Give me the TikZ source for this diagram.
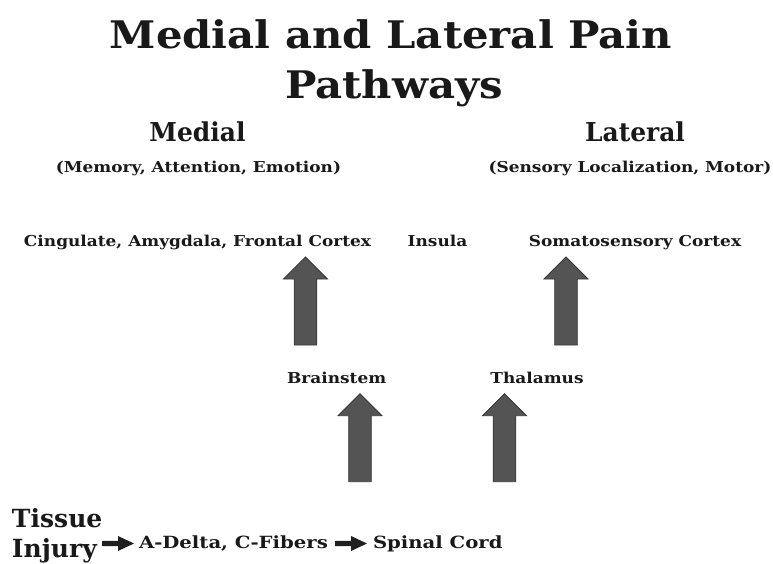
\documentclass[tikz,border=0pt]{standalone}
\usepackage{fontspec}
\setmainfont{DejaVu Serif}
\newfontfamily\ftitle[FakeStretch=1.10]{DejaVu Serif}
\newfontfamily\fhead[FakeStretch=0.96]{DejaVu Serif}
\newfontfamily\fsub[FakeStretch=1.13]{DejaVu Serif}
\newfontfamily\fbot[FakeStretch=1.17]{DejaVu Serif}
\begin{document}
\begin{tikzpicture}[x=1pt,y=-1pt,
  txt/.style={inner sep=0pt,outer sep=0pt,anchor=base,text=black!90},
  titletxt/.style={txt,font=\ftitle\fontsize{38}{40}\selectfont\bfseries},
  headtxt/.style={txt,font=\fhead\fontsize{26}{28}\selectfont\bfseries},
  subtxt/.style={txt,font=\fsub\fontsize{15}{17}\selectfont\bfseries},
  bottxt/.style={txt,anchor=base west,font=\fbot\fontsize{16.8}{19}\selectfont\bfseries},
  bigtxt/.style={txt,anchor=base west,font=\fontsize{25}{27}\selectfont\bfseries},
  bigarrow/.style={fill=black!67,draw=black!78,line width=0.8pt,line join=miter},
  smallarrow/.style={fill=black!88,draw=none},
  bigup/.pic={\path[bigarrow] (-11.3,0) -- (-11.3,-66) -- (-22,-66) -- (0,-88) -- (22,-66) -- (11.3,-66) -- (11.3,0) -- cycle;},
  smallright/.pic={\path[smallarrow] (0,-2.6) -- (16,-2.6) -- (16,-7.5) -- (32,0) -- (16,7.5) -- (16,2.6) -- (0,2.6) -- cycle;}
]
\useasboundingbox (0,0) rectangle (773,564);
\fill[white] (0,0) rectangle (773,564);

\node[titletxt] (t1) at (391,49) {Medial and Lateral Pain};
\node[titletxt] (t2) at (394,99) {Pathways};

\node[headtxt] (medial) at (197.5,142) {Medial};
\node[headtxt] (lateral) at (635,142) {Lateral};
\node[subtxt] (medsub) at (198.5,172) {(Memory, Attention, Emotion)};
\node[subtxt] (latsub) at (630,172) {(Sensory Localization, Motor)};

\node[subtxt] (cing) at (197.5,246) {Cingulate, Amygdala, Frontal Cortex};
\node[subtxt] (insula) at (437.5,246) {Insula};
\node[subtxt] (soma) at (635,246) {Somatosensory Cortex};

\node[subtxt] (brain) at (336.7,383) {Brainstem};
\node[subtxt] (thal) at (537,383) {Thalamus};

\node[bigtxt] (tissue) at (12,527) {Tissue};
\node[bigtxt] (injury) at (12,557) {Injury};
\node[bottxt] (adelta) at (139,548) {A-Delta, C-Fibers};
\node[bottxt] (spinal) at (373,548) {Spinal Cord};

\pic at (305.5,345) {bigup};
\pic at (566,345) {bigup};
\pic at (360,481.7) {bigup};
\pic at (504.5,481.7) {bigup};

\pic at (102,543.5) {smallright};
\pic at (335,543.5) {smallright};
\end{tikzpicture}
\end{document}
